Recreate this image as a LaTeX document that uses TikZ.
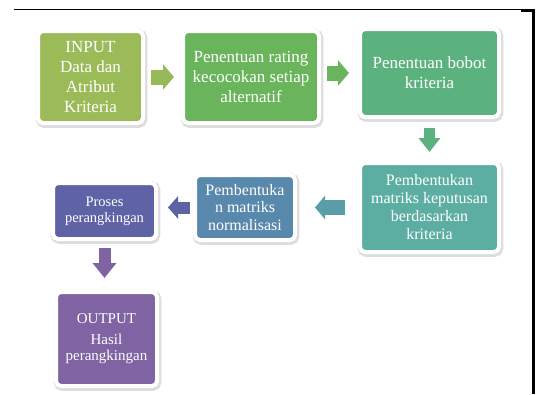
\documentclass[tikz,border=0pt]{standalone}
\usepackage{fontspec}
\setmainfont{Liberation Serif}
\usetikzlibrary{arrows.meta,shadows,calc}
\definecolor{cInput}{RGB}{155,187,89}
\definecolor{cRating}{RGB}{106,181,91}
\definecolor{cBobot}{RGB}{92,178,126}
\definecolor{cKeput}{RGB}{92,174,162}
\definecolor{cNormal}{RGB}{89,136,173}
\definecolor{cRank}{RGB}{94,99,166}
\definecolor{cOutput}{RGB}{128,99,162}

\begin{document}
\begin{tikzpicture}[x=1pt,y=-1pt,
  box/.style={rectangle,rounded corners=5pt,draw=white,line width=4pt,
              text=white,align=center,inner sep=1pt,
              font=\fontsize{17}{20}\selectfont,
              drop shadow={shadow xshift=1pt,shadow yshift=-1.5pt,
                           fill=black!60,draw=black!60,line width=6.5pt,
                           opacity=0.22}},
  blk/.style={line width=15pt,-{Triangle[length=11pt,width=25pt]}},
  frame/.style={black,line cap=rect}]

  \useasboundingbox (0,0) rectangle (544,394);

  % page frame
  \draw[frame,line width=0.8pt] (14,9.5) -- (522,9.5);
  \draw[frame,line width=2.5pt] (522,10.5) -- (533.5,10.5);
  \draw[black,line width=2.5pt] (533.5,9.5) -- (533.5,394);

  \node[box,fill=cInput,minimum width=105pt,minimum height=92pt]
    (Ninput) at (90.5,77) {INPUT\\ Data dan\\ Atribut\\ Kriteria};
  \node[box,fill=cRating,minimum width=136pt,minimum height=92pt]
    (Nrating) at (251,77) {Penentuan rating\\ kecocokan setiap\\ alternatif};
  \node[box,fill=cBobot,minimum width=139pt,minimum height=88pt]
    (Nbobot) at (429.5,73) {Penentuan bobot\\ kriteria};

  \node[box,fill=cKeput,minimum width=139pt,minimum height=89pt,
        font=\fontsize{16}{18}\selectfont]
    (Nkeput) at (429.5,207.5) {Pembentukan\\ matriks keputusan\\ berdasarkan\\ kriteria};
  \node[box,fill=cNormal,minimum width=100pt,minimum height=65pt,
        font=\fontsize{16}{17.5}\selectfont]
    (Nnormal) at (245,207.5) {Pembentuka\\ n matriks\\ normalisasi};
  \node[box,fill=cRank,minimum width=103pt,minimum height=56pt,
        font=\fontsize{14.5}{16}\selectfont]
    (Nrank) at (104.5,211) {Proses\\ perangkingan};
  \node[box,fill=cOutput,minimum width=101pt,minimum height=94pt,
        font=\fontsize{15}{16}\selectfont]
    (Noutput) at (106.5,339) {OUTPUT\\[5pt] Hasil\\ perangkingan};

  \draw[blk,cInput!90!cRating,shorten <=6pt,shorten >=7pt]
    (Ninput) -- (Nrating);
  \draw[blk,cRating,shorten <=6pt,shorten >=9pt]
    (Nrating.east |- Nbobot) -- (Nbobot);
  \draw[blk,cBobot,line width=11pt,
        -{Triangle[length=14pt,width=21pt]},shorten <=9pt,shorten >=9pt]
    (Nbobot) -- (Nkeput);
  \draw[blk,cKeput!55!cNormal,-{Triangle[length=10pt,width=23pt]},
        shorten <=13pt,shorten >=18pt]
    (Nkeput) -- (Nnormal);
  \draw[blk,cRank,line width=12pt,-{Triangle[length=10pt,width=22pt]},
        shorten <=3pt,shorten >=10pt]
    (Nnormal) -- (Nnormal -| Nrank.east);
  \draw[blk,cOutput,line width=12pt,-{Triangle[length=15pt,width=23pt]},
        shorten <=7pt,shorten >=12pt]
    (Nrank) -- (Nrank |- Noutput.north);
\end{tikzpicture}
\end{document}
